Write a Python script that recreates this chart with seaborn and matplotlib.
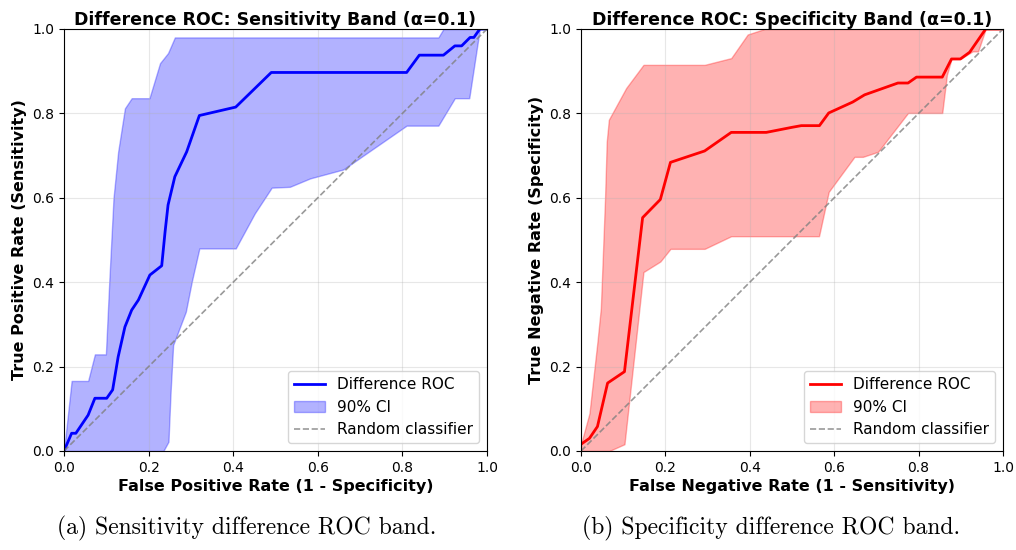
import matplotlib
matplotlib.use("Agg")
import matplotlib.pyplot as plt
import seaborn as sns
import pandas as pd
import numpy as np

# ---- Sensitivity (left) ----
sens_x = [0.0, 0.018, 0.028, 0.057, 0.073, 0.101, 0.115, 0.128, 0.144, 0.160, 0.176, 0.203,
          0.231, 0.239, 0.246, 0.262, 0.290, 0.320, 0.406, 0.490, 0.810, 0.840, 0.897, 0.924,
          0.940, 0.960, 0.969, 0.983, 1.0]
sens_y = [0.0, 0.042, 0.042, 0.085, 0.125, 0.125, 0.145, 0.223, 0.294, 0.334, 0.358, 0.417,
          0.439, 0.520, 0.583, 0.650, 0.709, 0.795, 0.815, 0.897, 0.897, 0.938, 0.938, 0.960,
          0.960, 0.980, 0.980, 1.0, 1.0]
sens_up_x = [0.0, 0.018, 0.057, 0.073, 0.099, 0.107, 0.117, 0.128, 0.144, 0.160, 0.202, 0.227,
             0.246, 0.262, 0.885, 0.897, 1.0]
sens_up_y = [0.0, 0.166, 0.166, 0.229, 0.229, 0.401, 0.599, 0.709, 0.812, 0.836, 0.836, 0.919,
             0.943, 0.980, 0.980, 1.0, 1.0]
sens_lo_x = [0.0, 0.235, 0.247, 0.252, 0.258, 0.288, 0.302, 0.320, 0.406, 0.451, 0.491, 0.534,
             0.582, 0.660, 0.810, 0.885, 0.924, 0.958, 0.983, 1.0]
sens_lo_y = [0.0, 0.0, 0.022, 0.140, 0.251, 0.330, 0.401, 0.480, 0.480, 0.563, 0.624, 0.626,
             0.646, 0.667, 0.771, 0.771, 0.836, 0.836, 1.0, 1.0]

# ---- Specificity (right) ----
spec_x = [0.0, 0.020, 0.039, 0.063, 0.103, 0.146, 0.188, 0.212, 0.293, 0.356, 0.439, 0.500,
          0.522, 0.565, 0.587, 0.644, 0.672, 0.751, 0.775, 0.795, 0.856, 0.878, 0.899, 0.921,
          0.959, 1.0]
spec_y = [0.016, 0.030, 0.058, 0.161, 0.188, 0.553, 0.596, 0.684, 0.711, 0.755, 0.755, 0.767,
          0.771, 0.771, 0.801, 0.827, 0.844, 0.872, 0.872, 0.886, 0.886, 0.929, 0.929, 0.945,
          1.0, 1.0]
spec_up_x = [0.0, 0.020, 0.039, 0.047, 0.057, 0.061, 0.066, 0.107, 0.148, 0.293, 0.356, 0.395,
             0.435, 1.0]
spec_up_y = [0.016, 0.089, 0.259, 0.338, 0.599, 0.733, 0.785, 0.860, 0.915, 0.915, 0.931, 0.987,
             1.0, 1.0]
spec_lo_x = [0.0, 0.067, 0.103, 0.148, 0.188, 0.212, 0.293, 0.356, 0.564, 0.587, 0.648, 0.668,
             0.704, 0.775, 0.856, 0.867, 0.878, 0.899, 0.928, 0.941, 0.959, 1.0]
spec_lo_y = [0.0, 0.0, 0.016, 0.424, 0.449, 0.479, 0.479, 0.509, 0.509, 0.614, 0.697, 0.697,
             0.709, 0.801, 0.801, 0.891, 0.929, 0.929, 0.947, 0.947, 1.0, 1.0]

diag = [0.0, 1.0]

titles = ["Difference ROC: Sensitivity Band (α=0.1)", "Difference ROC: Specificity Band (α=0.1)"]
xlabels = ["False Positive Rate (1 - Specificity)", "False Negative Rate (1 - Sensitivity)"]
ylabels = ["True Positive Rate (Sensitivity)", "True Negative Rate (Specificity)"]
captions = ["(a) Sensitivity difference ROC band.", "(b) Specificity difference ROC band."]
ticks = [0.0, 0.2, 0.4, 0.6, 0.8, 1.0]

plt.rcParams['font.family'] = ['DejaVu Sans']

fig = plt.figure(figsize=(10.16, 5.5), dpi=100)
W, H = 1016, 550
ax1 = fig.add_axes([64 / W, 1 - 451 / H, 423 / W, 422 / H])
ax2 = fig.add_axes([581 / W, 1 - 451 / H, 422 / W, 422 / H])

panels = [
    (ax1, sens_x, sens_y, sens_up_x, sens_up_y, sens_lo_x, sens_lo_y, "blue"),
    (ax2, spec_x, spec_y, spec_up_x, spec_up_y, spec_lo_x, spec_lo_y, "red"),
]

for i, (ax, x, y, ux, uy, lx, ly, col) in enumerate(panels):
    grid = np.union1d(np.array(ux), np.array(lx))
    up = np.interp(grid, ux, uy)
    lo = np.interp(grid, lx, ly)
    ax.fill_between(grid, lo, up, color=col, alpha=0.3, label="90% CI", linewidth=1)
    df = pd.DataFrame({"x": x, "y": y})
    sns.lineplot(data=df, x="x", y="y", ax=ax, color=col, linewidth=2, estimator=None,
                 sort=False, label="Difference ROC")
    sns.lineplot(x=diag, y=diag, ax=ax, color="gray", linestyle="--", linewidth=1.2,
                 alpha=0.8, label="Random classifier")
    ax.set_xlim(0, 1)
    ax.set_ylim(0, 1)
    ax.set_xticks(ticks)
    ax.set_yticks(ticks)
    ax.tick_params(labelsize=10)
    ax.grid(True, alpha=0.3)
    ax.set_title(titles[i], fontsize=12.5, fontweight="bold", pad=3)
    ax.set_xlabel(xlabels[i], fontsize=11.5, fontweight="bold", labelpad=3)
    ax.set_ylabel(ylabels[i], fontsize=11.5, fontweight="bold")
    h, l = ax.get_legend_handles_labels()
    order = [l.index("Difference ROC"), l.index("90% CI"), l.index("Random classifier")]
    ax.legend([h[k] for k in order], [l[k] for k in order], loc="lower right", fontsize=11)

fig.text(247 / W, 1 - 528 / H, captions[0], ha="center", va="center",
         family="cmr10", fontsize=17)
fig.text(771 / W, 1 - 528 / H, captions[1], ha="center", va="center",
         family="cmr10", fontsize=17)

fig.savefig("out.png", dpi=100)
